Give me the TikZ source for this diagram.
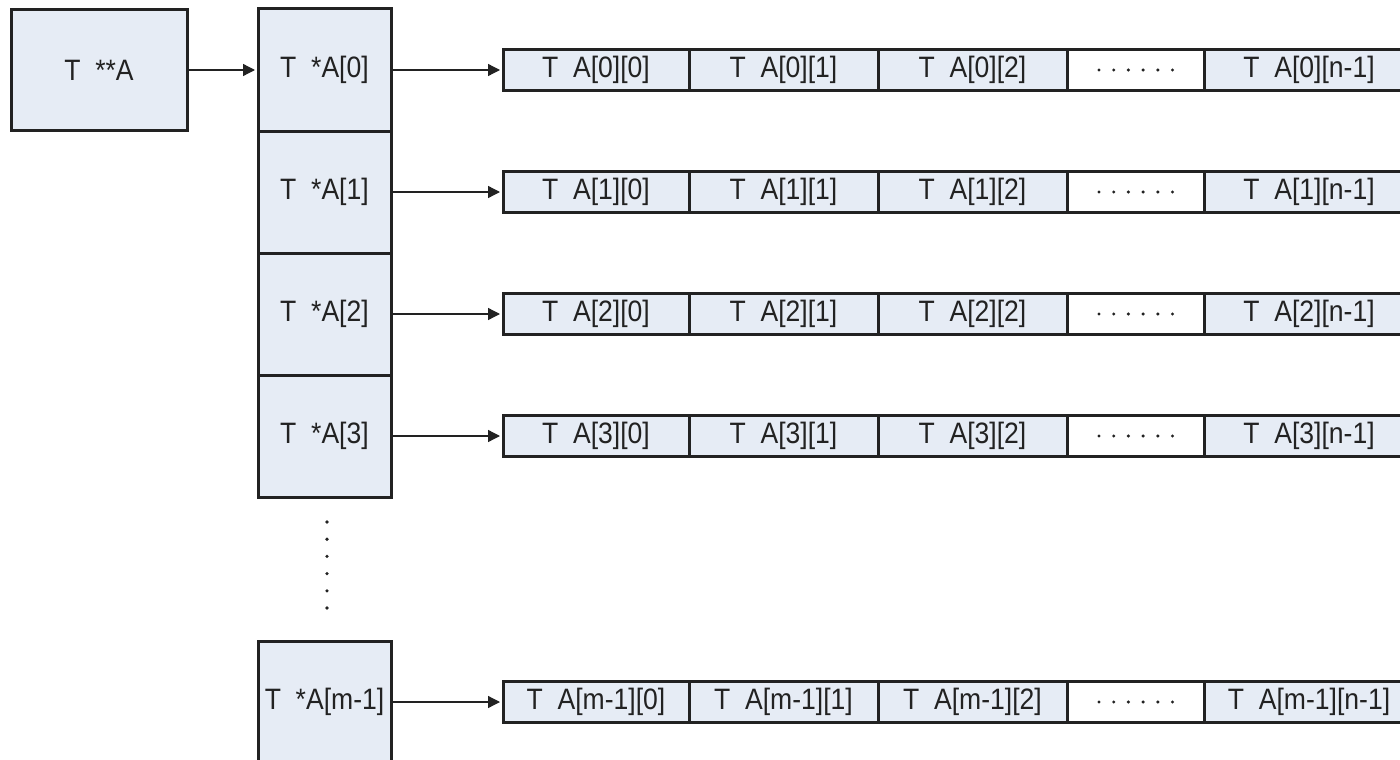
\documentclass[tikz,border=0pt]{standalone}
\usepackage{graphicx}
\usepackage{fontspec}
\setmainfont{Liberation Sans}
\usetikzlibrary{arrows.meta}
\definecolor{cellfill}{HTML}{E6ECF5}
\definecolor{ink}{HTML}{222222}
% slightly condensed label text
\newcommand\lbl[1]{\scalebox{0.9}[1]{#1}}
\begin{document}
\begin{tikzpicture}[x=1pt,y=-1pt,
  box/.style={draw=ink,line width=3pt,fill=cellfill,inner sep=0pt,
    font=\fontsize{29.5}{34}\selectfont,text=ink},
  link/.style={draw=ink,line width=1.3pt,-{Triangle[length=12pt,width=12pt]},shorten >=1.5pt},
  dot/.style={fill=ink}]
\useasboundingbox (0,0) rectangle (1400,760);
\clip (0,0) rectangle (1400,760);

% the pointer to the row-pointer array
\node[box,minimum width=176pt,minimum height=121pt] (pp) at (99,70) {\lbl{T\ \ **A}};

% row pointers and the rows they point to
\foreach \r/\y/\i in {0/70/0,1/192/1,2/314/2,3/436/3,4/702/m-1} {
  \node[box,minimum width=133pt,minimum height=122pt] (p\r) at (324.5,\y) {\lbl{T\ \ *A[\i]}};
  \node[box,minimum width=186pt,minimum height=41pt] (c\r0) at (596,\y) {\lbl{T\ \ A[\i][0]}};
  \node[box,minimum width=189pt,minimum height=41pt] (c\r1) at (783.5,\y) {\lbl{T\ \ A[\i][1]}};
  \node[box,minimum width=189pt,minimum height=41pt] (c\r2) at (972.5,\y) {\lbl{T\ \ A[\i][2]}};
  \node[box,fill=white,minimum width=137pt,minimum height=41pt] (c\r3) at (1135.5,\y) {};
  \foreach \k in {0,...,5} \fill[dot] (1099+14.7*\k,\y) circle (1.7pt);
  \node[box,minimum width=210pt,minimum height=41pt] (c\r4) at (1309,\y) {\lbl{T\ \ A[\i][n-1]}};
  \draw[link] (p\r) -- (c\r0);
}

\draw[link] (pp) -- (p0);

% vertical ellipsis between the row pointers
\foreach \k in {0,...,5} \fill[dot] (327,522+17.2*\k) circle (1.8pt);
\end{tikzpicture}
\end{document}
